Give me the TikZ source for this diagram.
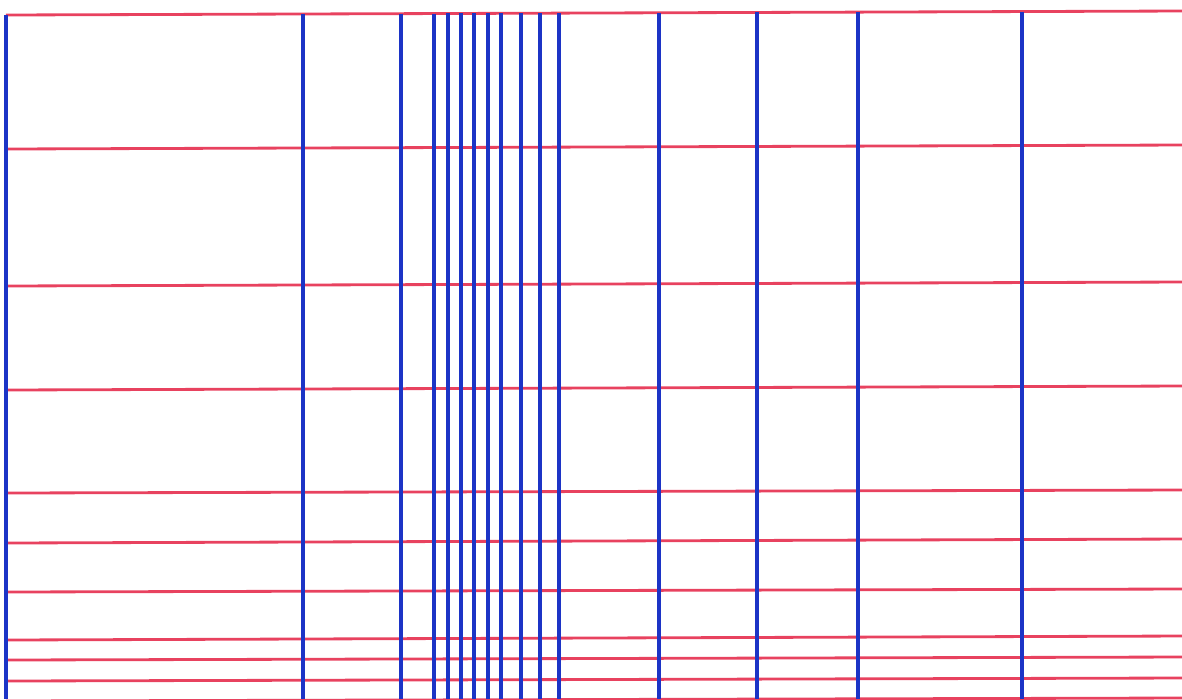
\documentclass[tikz,border=0pt]{standalone}
\usepackage{tikz}
\definecolor{gridRed}{HTML}{E8425F}
\definecolor{gridBlue}{HTML}{1C34C6}

\begin{document}
\begin{tikzpicture}[x=0.01cm, y=-0.01cm,
        fila/.style={gridRed, line width=0.8pt},
        columna/.style={gridBlue, line width=0.95pt}]
        \useasboundingbox (0,0) rectangle (1182,699);
        % horizontal lines (slightly rising to the right)
        \foreach \yl/\yr in {15/11, 149/145, 286/282, 390/386, 493/490, 543/539,
                             592/589, 640/636, 660/657, 681/678, 701/698}
          \draw[fila] (6,\yl) -- (1182,\yr);
        % vertical lines
        \foreach \x in {6, 303, 401, 434, 448, 461, 474, 488, 501, 521, 540, 559,
                        659, 757, 858, 1022}
          \draw[columna] (\x,{15-0.0034*\x}) -- (\x,699);
      \end{tikzpicture}
\end{document}
